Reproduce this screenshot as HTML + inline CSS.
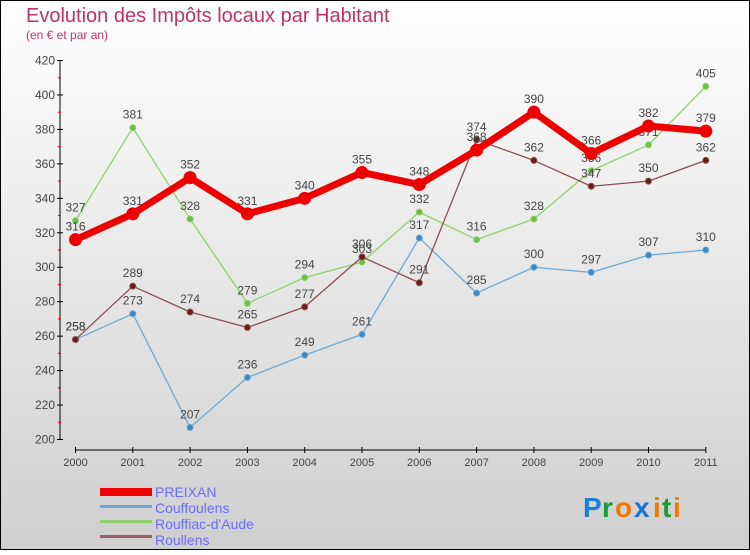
<!DOCTYPE html>
<html><head><meta charset="utf-8"><style>
body{margin:0}
#c{width:750px;height:550px;position:relative;font-family:"Liberation Sans",sans-serif}
</style></head><body>
<div id="c">
<svg id="s" width="750" height="550" xmlns="http://www.w3.org/2000/svg">
<defs><linearGradient id="bg" x1="0" y1="0" x2="0" y2="1"><stop offset="0" stop-color="#ffffff"/><stop offset="1" stop-color="#cfcfcf"/></linearGradient></defs>
<rect x="0.5" y="0.5" width="749" height="549" fill="url(#bg)" stroke="#000"/>
<text x="26" y="22" font-size="20" fill="#c0306a">Evolution des Impôts locaux par Habitant</text>
<text x="26" y="39" font-size="12" fill="#c0306a">(en € et par an)</text>
<g id="axes"></g><g id="series"></g>
<g>
<rect x="100" y="488" width="52" height="8" fill="#e00"/>
<text x="155" y="497" font-size="14" fill="#6a6aff">PREIXAN</text>
<rect x="100" y="505" width="52" height="3" fill="#6fa8d0"/>
<text x="155" y="513" font-size="14" fill="#6a6aff">Couffoulens</text>
<rect x="100" y="520" width="52" height="3" fill="#8fd070"/>
<text x="155" y="529" font-size="14" fill="#6a6aff">Rouffiac-d'Aude</text>
<rect x="100" y="535" width="52" height="3" fill="#9a6060"/>
<text x="155" y="545" font-size="14" fill="#6a6aff">Roullens</text>
</g>
<g font-size="28" font-weight="bold">
<text x="583" y="517" fill="#1a7fd8">P</text><text x="602" y="517" fill="#1a9a3a">r</text><text x="615" y="517" fill="#f07a00">o</text><text x="634" y="517" fill="#1a6fd8">x</text><text x="653" y="517" fill="#f07a00">i</text><text x="662" y="517" fill="#1a9a3a">t</text><text x="673" y="517" fill="#f07a00">i</text>
</g>
</svg>
</div>
<script>
const years=["2000","2001","2002","2003","2004","2005","2006","2007","2008","2009","2010","2011"];
const yTicks=[200,220,240,260,280,300,320,340,360,380,400,420];
const preixan=[316,331,352,331,340,355,348,368,390,366,382,379];
const couffoulens=[258,273,207,236,249,261,317,285,300,297,307,310];
const rouffiac=[327,381,328,279,294,303,332,316,328,356,371,405];
const roullens=[258,289,274,265,277,306,291,374,362,347,350,362];
const NS="http://www.w3.org/2000/svg";
function X(i){return 75.5+i*57.3;}
function Y(v){return 439.5-(v-200)*1.7227;}
function mk(t,a,p){const e=document.createElementNS(NS,t);for(const k in a)e.setAttribute(k,a[k]);p.appendChild(e);return e;}
const ax=document.getElementById('axes');
const yl=mk('line',{x1:60,y1:Y(420),x2:60,y2:Y(200),stroke:'#000'},ax);


yTicks.forEach((v,i)=>{
 mk('line',{x1:57,x2:63,y1:Y(v),y2:Y(v),stroke:'#000'},ax);
 if(i<yTicks.length-1)mk('line',{x1:58,x2:61,y1:Y(v+10),y2:Y(v+10),stroke:'#e00'},ax);
 const t=mk('text',{x:55,y:Y(v)+4,'text-anchor':'end','font-size':12,fill:'#444'},ax);t.textContent=v;
 
 
});
const xl=mk('line',{x1:X(0),x2:X(11),y1:450,y2:450,stroke:'#000'},ax);


years.forEach((y,i)=>{
 mk('line',{x1:X(i),x2:X(i),y1:447,y2:453,stroke:'#000'},ax);
 const t=mk('text',{x:X(i),y:466,'text-anchor':'middle','font-size':11,fill:'#444'},ax);t.textContent=y;
 
 
});
const sg=document.getElementById('series');
function draw(vals,color,w,r,fill,name){
 const g=mk('g',{},sg);
 
 
 mk('polyline',{points:vals.map((v,i)=>X(i)+','+Y(v)).join(' '),fill:'none',stroke:color,'stroke-width':w,'stroke-linejoin':'round'},g);
 vals.forEach((v,i)=>{
  const c=mk('circle',{cx:X(i),cy:Y(v),r:r,fill:fill,stroke:color,'stroke-width':1},g);
  
  
  const t=mk('text',{x:X(i),y:Y(v)-9,'text-anchor':'middle','font-size':12,fill:'#444'},g);t.textContent=v;
  
  
 });
}
draw(couffoulens,'#6fa8d0',1.3,3,'#3a88c8','couffoulens');
draw(rouffiac,'#8fd070',1.3,3,'#6cc040','rouffiac');
draw(roullens,'#8a5050',1.3,3,'#6a1a1a','roullens');
draw(preixan,'#ee0000',7,6,'#ee0000','preixan');
</script>
</body></html>
